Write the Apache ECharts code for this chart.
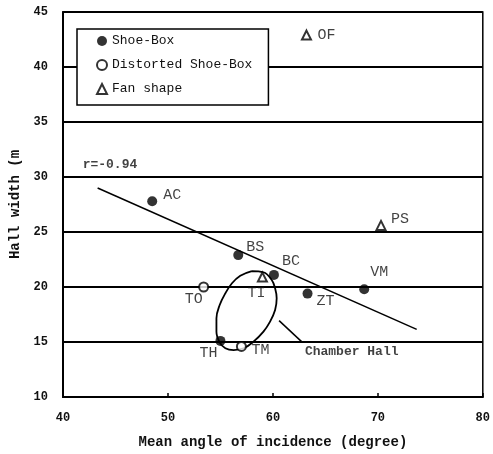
<!DOCTYPE html>
<html>
<head>
<meta charset="utf-8">
<script src="https://cdn.jsdelivr.net/npm/echarts@6/dist/echarts.min.js"></script>
<style>
  html, body { margin: 0; padding: 0; background: #fff; }
  #chart { width: 493px; height: 454px; }
</style>
</head>
<body>
<div id="chart"></div>
<script>
// Hall width versus mean angle of incidence, grouped by hall shape
const shoeBoxNames = ['AC', 'BS', 'BC', 'ZT', 'VM', 'TH'];
const shoeBoxAngle = [48.5, 56.7, 60.1, 63.3, 68.7, 55.0];
const shoeBoxWidth = [27.8, 22.9, 21.1, 19.4, 19.8, 15.1];

const distortedNames = ['TO', 'TM'];
const distortedAngle = [53.4, 57.0];
const distortedWidth = [20.0, 14.6];

const fanNames = ['TI', 'PS', 'OF'];
const fanAngle = [59.0, 70.3, 63.2];
const fanWidth = [20.9, 25.6, 42.9];

// regression line end points
const fitAngle = [43.3, 73.7];
const fitWidth = [29.0, 16.15];
const fitLabel = 'r=-0.94';

// outline grouping the chamber halls, and its pointer to the caption
const loopAngle = [57.99, 59.10, 59.89, 60.21, 60.36, 60.21, 59.73, 59.10, 58.15, 57.21,
                   56.26, 55.47, 54.93, 54.62, 54.62, 54.93, 55.47, 56.10, 56.89, 57.99];
const loopWidth = [21.45, 21.34, 20.64, 19.88, 18.97, 17.91, 16.85, 15.94, 15.03, 14.43,
                   14.27, 14.43, 14.97, 15.94, 17.15, 18.36, 19.43, 20.34, 21.03, 21.45];
const pointerAngle = [60.59, 62.73];
const pointerWidth = [16.94, 15.03];
const loopLabel = 'Chamber Hall';

const xMin = 40, xMax = 80, xStep = 10;
const yMin = 10, yMax = 45, yStep = 5;

// where each hall's tag sits around its marker: [align, dx, dy]
const labelPlacement = {
  AC: ['left', 11, -6], BS: ['left', 8, -8], BC: ['left', 8, -14], VM: ['left', 6, -17],
  ZT: ['left', 9, 7], TH: ['center', -12, 12], TO: ['center', -10, 12], TM: ['left', 10, 4],
  TI: ['center', -6, 16], PS: ['left', 10, -6], OF: ['left', 11, 0]
};

const mono = '"Liberation Mono", "DejaVu Sans Mono", monospace';
const ink = '#111';

function points(names, xs, ys) {
  return names.map((n, i) => {
    const p = labelPlacement[n];
    return {
      name: n,
      value: [xs[i], ys[i]],
      label: { align: p[0], offset: [p[1], p[2]] }
    };
  });
}
function pairs(xs, ys) { return xs.map((x, i) => [x, ys[i]]); }

const tagLabel = {
  show: true,
  position: 'inside',
  verticalAlign: 'middle',
  formatter: '{b}',
  color: ink,
  fontFamily: mono,
  fontSize: 15
};

const chart = echarts.init(document.getElementById('chart'), null, { renderer: 'canvas' });
chart.setOption({
  animation: false,
  backgroundColor: '#fff',
  grid: {
    left: 63, right: 7, top: 12, bottom: 57,
    show: true, borderColor: '#000', borderWidth: 1.5
  },
  legend: {
    orient: 'vertical',
    left: 77, top: 29,
    padding: [5, 16, 9, 19],
    itemGap: 10,
    itemWidth: 10, itemHeight: 10,
    backgroundColor: '#fff',
    borderColor: '#000',
    borderWidth: 1.5,
    data: ['Shoe-Box', 'Distorted Shoe-Box', 'Fan shape'],
    textStyle: { fontFamily: mono, fontSize: 13, color: ink, lineHeight: 14 }
  },
  xAxis: {
    type: 'value', min: xMin, max: xMax, interval: xStep,
    name: 'Mean angle of incidence (degree)',
    nameLocation: 'middle', nameGap: 38,
    nameTextStyle: { fontFamily: mono, fontWeight: 'bold', fontSize: 14, color: ink },
    axisLine: { lineStyle: { color: '#000', width: 2 } },
    axisTick: { show: true, inside: true, length: 4, lineStyle: { color: '#000', width: 1.5 } },
    axisLabel: { margin: 15, fontFamily: mono, fontWeight: 'bold', fontSize: 12, color: ink },
    splitLine: { show: false }
  },
  yAxis: {
    type: 'value', min: yMin, max: yMax, interval: yStep,
    name: 'Hall width (m',
    nameLocation: 'middle', nameGap: 40,
    nameTextStyle: { fontFamily: mono, fontWeight: 'bold', fontSize: 14, color: ink },
    axisLine: { show: true, lineStyle: { color: '#000', width: 2 } },
    axisTick: { show: false },
    axisLabel: { margin: 15, fontFamily: mono, fontWeight: 'bold', fontSize: 12, color: ink },
    splitLine: { show: true, lineStyle: { color: '#000', width: 2 } }
  },
  series: [
    {
      name: 'fit', type: 'line', data: pairs(fitAngle, fitWidth),
      symbol: 'none', silent: true, z: 3,
      lineStyle: { color: '#000', width: 1.5 }
    },
    {
      name: 'loop', type: 'line', data: pairs(loopAngle, loopWidth),
      symbol: 'none', smooth: 0.4, silent: true, z: 3,
      lineStyle: { color: '#000', width: 1.8 }
    },
    {
      name: 'pointer', type: 'line', data: pairs(pointerAngle, pointerWidth),
      symbol: 'none', silent: true, z: 3,
      lineStyle: { color: '#000', width: 1.5 }
    },
    {
      name: 'notes', type: 'scatter', symbolSize: 0, silent: true, z: 4,
      data: [
        { name: fitLabel, value: [41.87, 31.09] },
        { name: loopLabel, value: [63.05, 14.12] }
      ],
      label: {
        show: true, position: 'inside', align: 'left', verticalAlign: 'middle',
        formatter: '{b}', color: ink, fontFamily: mono, fontWeight: 'bold', fontSize: 13
      }
    },
    {
      name: 'Shoe-Box', type: 'scatter', z: 5,
      data: points(shoeBoxNames, shoeBoxAngle, shoeBoxWidth),
      symbol: 'circle', symbolSize: 10,
      itemStyle: { color: '#000' },
      label: tagLabel
    },
    {
      name: 'Distorted Shoe-Box', type: 'scatter', z: 5,
      data: points(distortedNames, distortedAngle, distortedWidth),
      symbol: 'circle', symbolSize: 9,
      itemStyle: { color: '#fff', borderColor: '#000', borderWidth: 2 },
      label: tagLabel
    },
    {
      name: 'Fan shape', type: 'scatter', z: 5,
      data: points(fanNames, fanAngle, fanWidth),
      symbol: 'triangle', symbolSize: 9,
      itemStyle: { color: '#fff', borderColor: '#000', borderWidth: 2 },
      label: tagLabel
    }
  ]
});
</script>
</body>
</html>
